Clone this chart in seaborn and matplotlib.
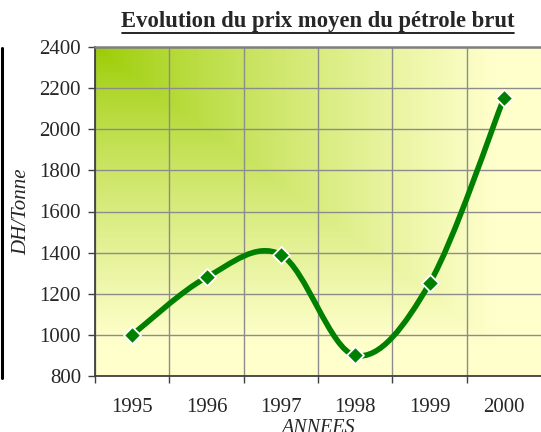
import matplotlib
matplotlib.use("Agg")
import matplotlib.pyplot as plt
import numpy as np
import pandas as pd
import seaborn as sns
from matplotlib.colors import to_rgb
from matplotlib.lines import Line2D
from matplotlib.patches import PathPatch
from matplotlib.path import Path


years  = ["1995", "1996", "1997", "1998", "1999", "2000"]
prices = [1000, 1280, 1390, 900, 1250, 2150]

TITLE  = "Evolution du prix moyen du pétrole brut"
XLABEL = "ANNEES"
YLABEL = "DH/Tonne"

LINE_GREEN = "#008000"
GRAD_START = "#99CC00"
GRAD_END   = "#FFFFCC"


def smooth_path(xs, ys):
    # Bezier segments through every point, like the spreadsheet "smoothed line"
    pts = np.column_stack([xs, ys]).astype(float)
    n = len(pts)
    verts = [pts[0]]
    codes = [Path.MOVETO]
    for i in range(n - 1):
        p0 = pts[max(i - 1, 0)]
        p1 = pts[i]
        p2 = pts[i + 1]
        p3 = pts[min(i + 2, n - 1)]
        c1 = p1 + (p2 - p0) / 6.0
        c2 = p2 - (p3 - p1) / 6.0
        verts += [c1, c2, p2]
        codes += [Path.CURVE4] * 3
    return Path(verts, codes)


def main():
    sns.set_theme(style="white")
    plt.rcParams["font.family"] = ["Liberation Serif", "DejaVu Serif"]

    df = pd.DataFrame({"annee": years, "prix": prices})
    df["pos"] = np.arange(len(years))

    fig = plt.figure(figsize=(5.41, 4.32), dpi=100)
    ax = fig.add_axes([95 / 541, 1 - 376 / 432, 446 / 541, 329 / 432])

    # ── background gradient (from the top-left corner) ──
    h, w = 200, 270
    u = np.linspace(0, 1, w)[None, :]
    v = np.linspace(0, 1, h)[:, None]
    t = np.clip(np.maximum(u, v) / 0.9, 0, 1) ** 0.8
    c0, c1 = np.array(to_rgb(GRAD_START)), np.array(to_rgb(GRAD_END))
    img = c0[None, None, :] * (1 - t[..., None]) + c1[None, None, :] * t[..., None]
    # row 0 of img = top of the plot area
    ax.imshow(img, extent=[0, 1, 0, 1], origin="upper", transform=ax.transAxes,
              aspect="auto", zorder=0, interpolation="bilinear")

    # ── smoothed line + diamond markers ──
    ax.add_patch(PathPatch(smooth_path(df["pos"], df["prix"]), fill=False,
                           edgecolor=LINE_GREEN, lw=4.0, capstyle="round",
                           joinstyle="round", zorder=3))
    sns.scatterplot(data=df, x="pos", y="prix", marker="D", s=75,
                    color=LINE_GREEN, edgecolor="white", linewidth=1.3,
                    zorder=4, ax=ax, legend=False)

    # ── axes ──
    ax.set_xlim(-0.5, len(years) - 0.5)
    ax.set_ylim(800, 2400)
    ax.set_yticks(np.arange(800, 2401, 200))
    ax.set_xticks(np.arange(-0.5, len(years) - 0.5, 1))
    ax.set_xticklabels([])
    ax.set_xticks(np.arange(len(years)), minor=True)
    ax.set_xticklabels(years, minor=True)

    ax.grid(True, which="major", color="#8c8c8c", lw=1.0, zorder=1)
    ax.set_axisbelow(True)
    ax.tick_params(axis="y", which="major", length=5, width=1, color="#404040",
                   direction="out", labelsize=15, pad=5, left=True)
    ax.tick_params(axis="x", which="major", length=5, width=1, color="#404040",
                   direction="out", bottom=True)
    ax.tick_params(axis="x", which="minor", length=0, labelsize=15, pad=16)

    for side in ["left", "bottom"]:
        ax.spines[side].set_color("#404040")
        ax.spines[side].set_linewidth(1.3)
    ax.spines["top"].set_color("#808080")
    ax.spines["top"].set_linewidth(1.8)
    ax.spines["right"].set_visible(False)

    ax.set_xlabel(XLABEL, fontsize=14.5, style="italic", labelpad=1)
    ax.set_ylabel(YLABEL, fontsize=15, style="italic", labelpad=6)

    fig.text(318 / 541, 1 - 21 / 432, TITLE, ha="center", va="center",
             fontsize=16.3, fontweight="bold")
    # underline for the title
    fig.add_artist(Line2D([122 / 541, 514 / 541], [1 - 33 / 432, 1 - 33 / 432],
                          color="black", lw=1.2))
    # black border line on the far left
    fig.add_artist(Line2D([1.5 / 541, 1.5 / 541], [1 - 48 / 432, 1 - 378 / 432],
                          color="black", lw=2.2))

    fig.savefig("out.png", dpi=100)
    plt.close(fig)


if __name__ == "__main__":
    main()
